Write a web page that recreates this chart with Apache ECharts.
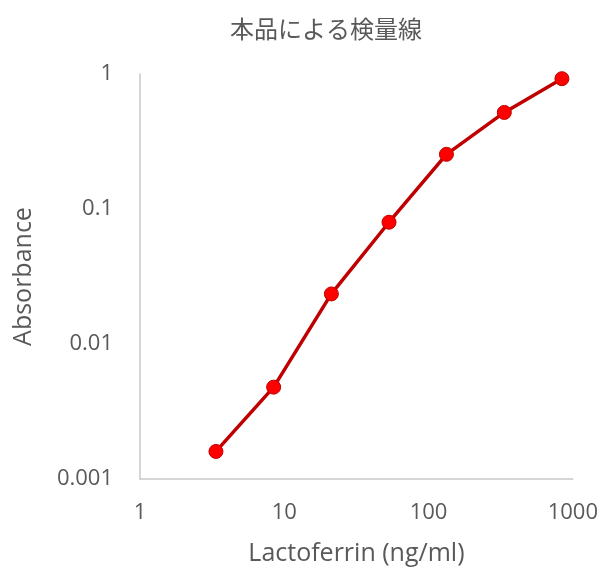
<!DOCTYPE html>
<html>
<head>
<meta charset="utf-8">
<script src="https://cdn.jsdelivr.net/npm/echarts@6/dist/echarts.min.js"></script>
<style>
html,body{margin:0;padding:0;background:#fff;}
#chart{width:601px;height:571px;}
</style>
</head>
<body>
<div id="chart"></div>
<script>
const concentrations = [3.36, 8.44, 21.2, 53.2, 133, 335, 840];
const absorbance = [0.0016, 0.00479, 0.0235, 0.0798, 0.254, 0.519, 0.923];
const titleText = '本品による検量線';
const xName = 'Lactoferrin (ng/ml)';
const yName = 'Absorbance';

const chart = echarts.init(document.getElementById('chart'));
const font = '"Open Sans", "Noto Sans", sans-serif';
const fmt = function (v) { return String(Number(Number(v).toPrecision(6))); };
chart.setOption({
  animation: false,
  backgroundColor: '#ffffff',
  title: {
    text: titleText,
    left: 321,
    textAlign: 'center',
    top: 12,
    textStyle: { fontFamily: '"Noto Sans CJK JP", sans-serif', fontSize: 24, fontWeight: 'normal', color: '#595959' }
  },
  grid: { left: 140, right: 28, top: 74, bottom: 90, containLabel: false },
  xAxis: {
    type: 'log', logBase: 10, min: 1, max: 1000,
    name: xName, nameLocation: 'middle', nameGap: 62,
    nameTextStyle: { fontFamily: font, fontSize: 25, color: '#595959' },
    axisLine: { show: true, lineStyle: { color: '#C8C8C8', width: 1.5 } },
    axisTick: { show: false },
    splitLine: { show: false },
    axisLabel: { fontFamily: font, fontSize: 22, color: '#595959', margin: 23, formatter: fmt }
  },
  yAxis: {
    type: 'log', logBase: 10, min: 0.001, max: 1,
    name: yName, nameLocation: 'middle', nameGap: 104,
    nameTextStyle: { fontFamily: font, fontSize: 25, color: '#595959' },
    axisLine: { show: true, lineStyle: { color: '#C8C8C8', width: 1.5 } },
    axisTick: { show: false },
    splitLine: { show: false },
    axisLabel: { fontFamily: font, fontSize: 22, color: '#595959', margin: 27, formatter: fmt }
  },
  series: [{
    type: 'line',
    data: concentrations.map((c, i) => [c, absorbance[i]]),
    symbol: 'circle',
    symbolSize: 14,
    lineStyle: { color: '#C00000', width: 3.5 },
    itemStyle: { color: '#FF0000', borderColor: '#C00000', borderWidth: 1 }
  }]
});
</script>
</body>
</html>
